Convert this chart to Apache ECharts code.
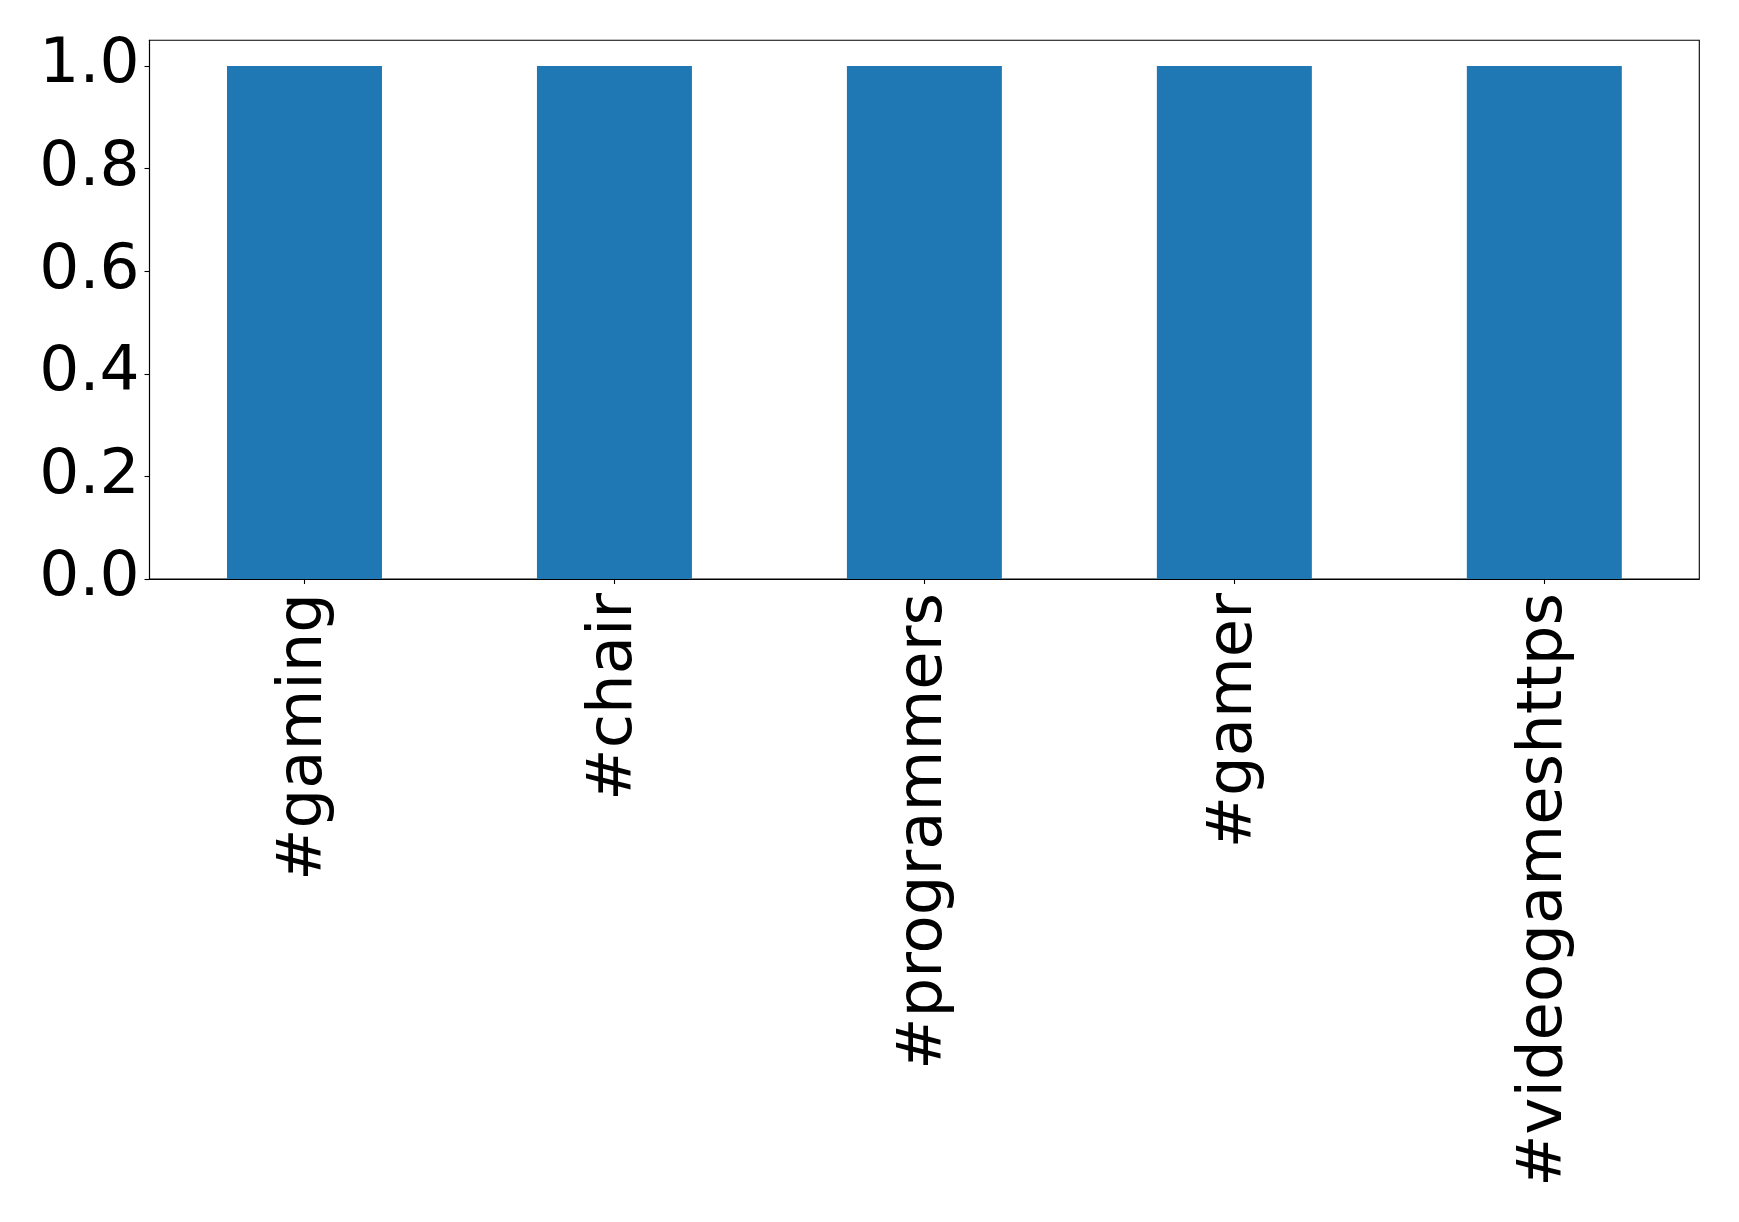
<!DOCTYPE html>
<html>
<head>
<meta charset="utf-8">
<script src="https://cdn.jsdelivr.net/npm/echarts@6/dist/echarts.min.js"></script>
<style>
html,body{margin:0;padding:0;background:#fff;}
#chart{width:1739px;height:1222px;}
</style>
</head>
<body>
<div id="chart"></div>
<script>
const categories = ['#gaming', '#chair', '#programmers', '#gamer', '#videogameshttps'];
const values = [1, 1, 1, 1, 1];
const yTicks = [0, 0.2, 0.4, 0.6, 0.8, 1.0];

const chart = echarts.init(document.getElementById('chart'), null, {renderer: 'canvas'});
const font = 'DejaVu Sans';
chart.setOption({
  animation: false,
  backgroundColor: '#ffffff',
  grid: {
    left: 149.5, right: 39.7, top: 40.3, bottom: 643,
    show: true, borderColor: '#000', borderWidth: 1.1, backgroundColor: 'transparent'
  },
  xAxis: {
    type: 'category',
    data: categories,
    boundaryGap: true,
    axisLine: {show: true, lineStyle: {color: '#000', width: 1.1}},
    axisTick: {show: true, alignWithLabel: true, length: 5, lineStyle: {color: '#000', width: 1.1}},
    axisLabel: {
      rotate: 90, margin: 14, color: '#000',
      fontFamily: font, fontSize: 62.5, interval: 0,
      padding: [0, 0, 0, 0]
    },
    splitLine: {show: false}
  },
  yAxis: {
    type: 'value',
    min: 0, max: 1.05,
    axisLine: {show: true, lineStyle: {color: '#000', width: 1.1}},
    axisTick: {show: true, length: 5, lineStyle: {color: '#000', width: 1.1}, customValues: yTicks},
    axisLabel: {
      color: '#000', fontFamily: font, fontSize: 63, margin: 10,
      customValues: yTicks,
      formatter: v => v.toFixed(1)
    },
    splitLine: {show: false}
  },
  series: [{
    type: 'bar',
    data: values,
    barWidth: '50%',
    itemStyle: {color: '#1f77b4'}
  }]
});
</script>
</body>
</html>
